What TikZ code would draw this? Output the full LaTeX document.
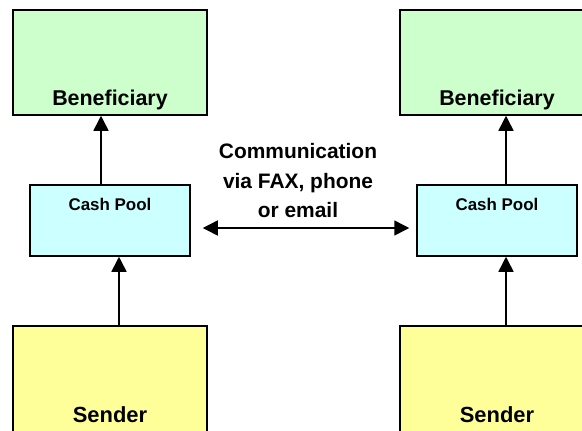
\documentclass[tikz,border=0pt]{standalone}
\usepackage{fontspec}
\setmainfont{Liberation Sans}
\usetikzlibrary{arrows.meta,positioning}
\definecolor{benefgreen}{HTML}{CCFFCC}
\definecolor{poolcyan}{HTML}{CCFFFF}
\definecolor{senderyellow}{HTML}{FFFF99}
\tikzset{
  box/.style={draw=black, line width=1.5bp, inner sep=0pt},
  bigbox/.style={box, minimum width=194bp, minimum height=105bp},
  poolbox/.style={box, fill=poolcyan, minimum width=160bp, minimum height=71bp},
  tip/.tip={Triangle[length=15bp,width=15bp]},
  flow/.style={line width=1.5bp, -tip},
  lbl/.style={font=\bfseries, anchor=base, inner sep=0pt}
}

\begin{document}
\begin{tikzpicture}[x=1bp,y=-1bp]
\useasboundingbox (0,0) rectangle (582,430);
\clip (0,0) rectangle (582,430);
% draw boxes
\node[bigbox, fill=benefgreen] (benL) at (110,62.5) {};
\node[bigbox, fill=benefgreen] (benR) at (497,62.5) {};
\node[poolbox] (poolL) at (110,220.5) {};
\node[poolbox] (poolR) at (497,220.5) {};
\node[bigbox, fill=senderyellow, minimum height=112bp] (sendL) at (110,382) {};
\node[bigbox, fill=senderyellow, minimum height=112bp] (sendR) at (497,382) {};
% box labels
\node[lbl, font=\fontsize{21.5}{24}\bfseries] at ([yshift=10bp]benL.south) {Beneficiary};
\node[lbl, font=\fontsize{21.5}{24}\bfseries] at ([yshift=10bp]benR.south) {Beneficiary};
\node[lbl, font=\fontsize{17}{20}\bfseries] at ([yshift=-26bp]poolL.north) {Cash Pool};
\node[lbl, font=\fontsize{17}{20}\bfseries] at ([yshift=-26bp]poolR.north) {Cash Pool};
\node[lbl, font=\fontsize{22}{26}\bfseries] at ([yshift=-97bp]sendL.north) {Sender};
\node[lbl, font=\fontsize{22}{26}\bfseries] at ([yshift=-97bp]sendR.north) {Sender};
% arrows
\draw[flow] ([xshift=9bp]sendL.north) -- ([xshift=9bp]poolL.south);
\draw[flow] ([xshift=-9bp]poolL.north) -- ([xshift=-9bp]benL.south);
\draw[flow] ([xshift=9bp]sendR.north) -- ([xshift=9bp]poolR.south);
\draw[flow] ([xshift=9bp]poolR.north) -- ([xshift=9bp]benR.south);
\coordinate (commL) at ([shift={(12,7.5)}]poolL.east);
\coordinate (commR) at ([shift={(-7,7.5)}]poolR.west);
\draw[flow, tip-tip] (commL) -- (commR);
\node[font=\fontsize{21}{29.5}\bfseries, align=center, anchor=south, inner sep=0pt] (comm) at (298,218) {Communication\\via FAX, phone\\or email};
\end{tikzpicture}
\end{document}
